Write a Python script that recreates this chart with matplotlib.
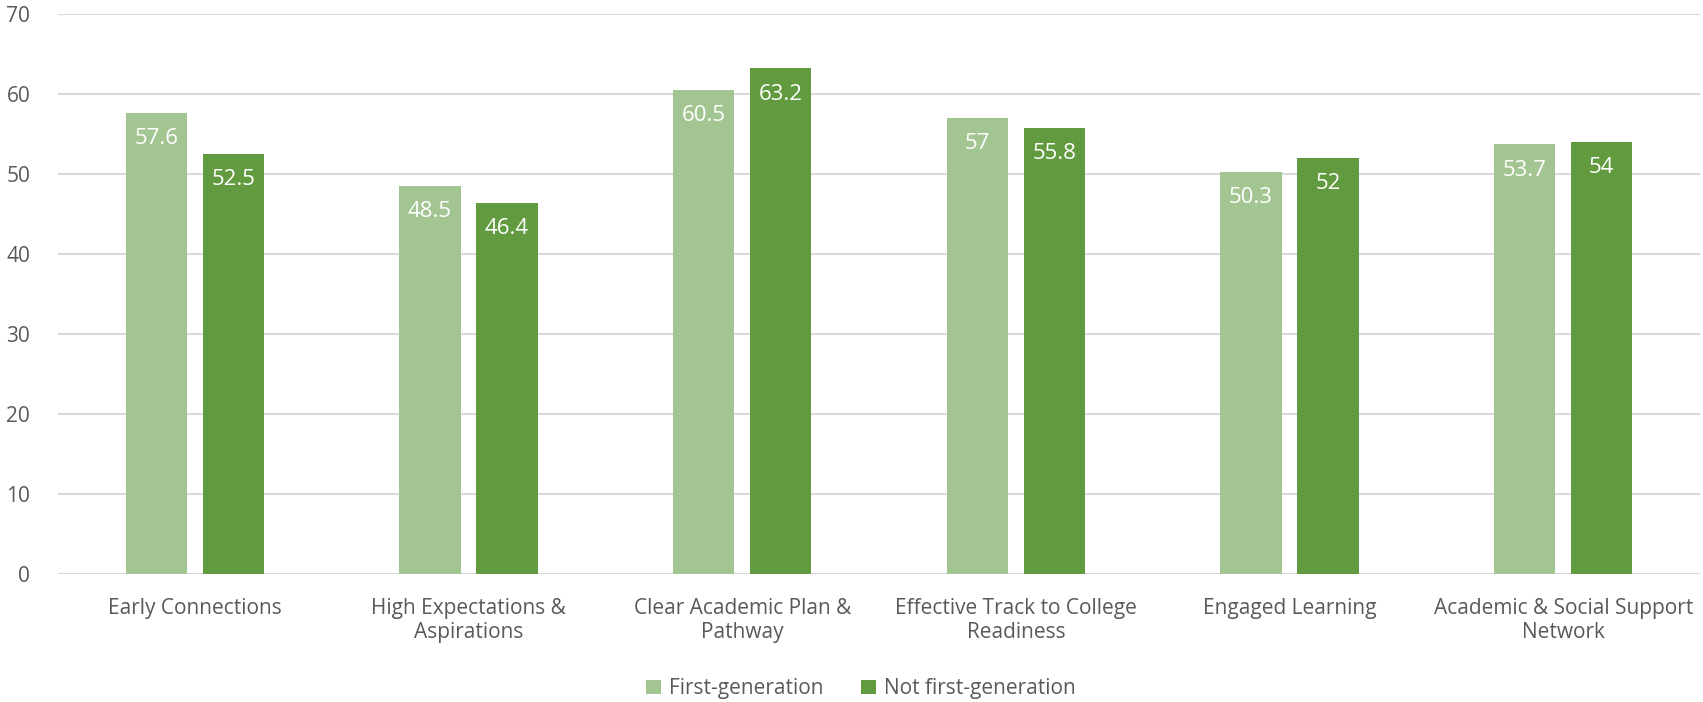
import numpy as np
import matplotlib.pyplot as plt

categories = ["Early Connections", "High Expectations &\nAspirations",
              "Clear Academic Plan &\nPathway", "Effective Track to College\nReadiness",
              "Engaged Learning", "Academic & Social Support\nNetwork"]
first_gen = [57.6, 48.5, 60.5, 57, 50.3, 53.7]
not_first_gen = [52.5, 46.4, 63.2, 55.8, 52, 54]
series_names = ["First-generation", "Not first-generation"]

light = "#A3C592"
dark = "#629B3F"
grey = "#595959"

plt.rcParams['font.family'] = ['Open Sans', 'DejaVu Sans']
fs = 15

fig = plt.figure(figsize=(17.03, 7.02), dpi=100)
ax = fig.add_axes([58 / 1703, 128 / 702, 1642 / 1703, 560 / 702])

x = np.arange(len(categories))
w = 0.223
off = 0.1407
b1 = ax.bar(x - off, first_gen, w, color=light, label=series_names[0], zorder=3)
b2 = ax.bar(x + off, not_first_gen, w, color=dark, label=series_names[1], zorder=3)

# value labels sit just inside the top of each bar
for bars, vals in ((b1, first_gen), (b2, not_first_gen)):
    for r, v in zip(bars, vals):
        ax.text(r.get_x() + r.get_width() / 2, v - 1.9, f"{v:g}",
                ha="center", va="top", color="white", fontsize=fs + 1, zorder=4)

ax.set_xlim(-0.5, len(categories) - 0.5)
ax.set_ylim(0, 70)
ax.set_yticks(range(0, 71, 10))
ax.set_xticks(x)
ax.set_xticklabels(categories, fontsize=fs, color=grey, linespacing=1.2)
ax.tick_params(axis="y", labelsize=fs, labelcolor=grey, length=0, pad=20)
ax.tick_params(axis="x", length=0, pad=17)
ax.grid(axis="y", color="#D9D9D9", linewidth=1.5, zorder=0)
for s in ax.spines.values():
    s.set_visible(False)

ax.legend(loc="center", bbox_to_anchor=(0.489, -0.205), ncol=2, frameon=False,
          fontsize=fs, labelcolor=grey, handlelength=0.7, handleheight=0.7,
          columnspacing=1.8, handletextpad=0.4)

fig.savefig("out.png", dpi=100)
